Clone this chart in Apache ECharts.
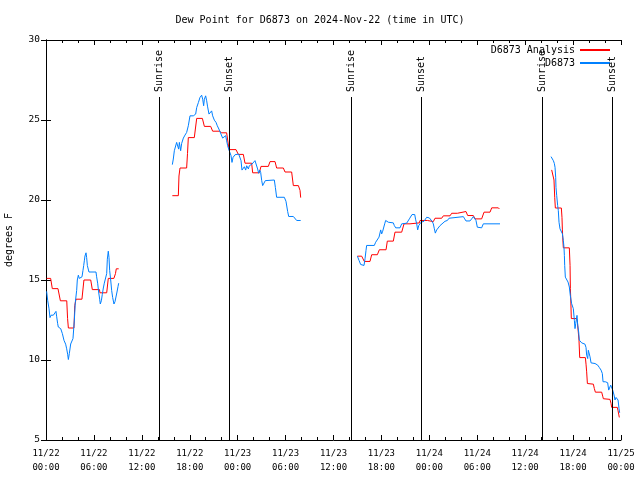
<!DOCTYPE html>
<html><head><meta charset="utf-8">
<script src="https://cdn.jsdelivr.net/npm/echarts@6/dist/echarts.min.js"></script>
<style>html,body{margin:0;padding:0;background:#fff}#c{width:640px;height:480px}</style>
</head><body><div id="c"></div>
<script>
const FONT = 'DejaVu Sans Mono';
const titleText = 'Dew Point for D6873 on 2024-Nov-22 (time in UTC)';
const startMonth = '11';
const startDay = 22;
// hours since 2024-11-22 00:00 UTC; null marks a gap in the record
const analysisHours = [
  0.08,0.58,0.79,1.5,1.8,2.6,2.7,2.8,3.5,3.6,3.76,4.5,4.75,5.6,5.8,6.7,6.75,7.6,7.8,8.5,8.7,8.8,9.1,
  null,
  15.82,16.57,16.65,16.78,17.61,17.72,17.82,18.57,18.87,19.58,19.83,20.62,20.87,21.7,22.0,22.62,22.92,23.79,24.08,24.71,24.92,25.75,25.88,26.71,26.92,27.84,28.05,28.68,28.88,29.72,29.93,30.76,30.97,31.6,31.81,31.89,
  null,
  38.99,39.53,39.86,40.57,40.78,41.49,41.74,42.58,42.74,43.49,43.70,44.54,44.83,45.58,45.71,46.75,46.83,47.75,47.88,48.5,48.71,49.55,49.75,50.59,50.8,51.51,51.63,52.59,52.8,53.51,53.72,54.55,54.85,55.6,55.81,56.64,56.77,
  null,
  63.32,63.53,63.61,63.7,63.78,64.53,64.61,64.66,64.7,64.78,65.53,65.62,65.66,65.7,65.78,66.45,66.53,66.66,66.74,66.83,67.54,67.62,67.7,67.79,68.54,68.66,68.79,69.58,69.71,69.79,70.62,70.75,70.83,71.54,71.63,71.71,71.79
];
const analysisDew = [
  15.1,15.1,14.46,14.46,13.7,13.7,12.6,12.0,12.0,13.4,13.8,13.8,15.0,15.0,14.4,14.4,14.2,14.2,15.1,15.1,15.4,15.7,15.7,
  null,
  20.27,20.27,21.5,22.0,22.0,22.9,23.9,23.9,25.1,25.1,24.6,24.6,24.3,24.3,24.2,24.2,23.15,23.15,22.85,22.85,22.3,22.3,21.7,21.7,22.1,22.1,22.4,22.4,22.0,22.0,21.75,21.75,20.9,20.9,20.6,20.15,
  null,
  16.49,16.49,16.16,16.16,16.58,16.58,16.89,16.89,17.43,17.43,17.99,17.99,18.51,18.51,18.57,18.57,18.72,18.72,18.65,18.65,18.86,18.86,19.01,19.01,19.17,19.17,19.28,19.28,19.03,19.03,18.82,18.82,19.24,19.24,19.51,19.51,19.44,
  null,
  21.88,21.88,21.25,20.17,19.5,19.5,18.92,18.13,17.68,17.01,17.01,15.91,14.46,13.94,12.59,12.59,12.44,12.44,11.24,10.15,10.15,9.74,9.26,8.53,8.49,8.22,7.99,7.99,7.74,7.58,7.54,7.29,7.04,7.04,6.83,6.62,6.41
];
const obsHours = [
  0.08,0.21,0.38,0.5,0.63,0.92,1.13,1.25,1.34,1.46,1.54,1.84,2.05,2.25,2.46,2.59,2.71,2.8,2.92,3.09,3.3,3.38,3.55,3.67,3.84,3.92,4.05,4.17,4.34,4.51,4.63,4.72,4.8,4.88,5.01,5.09,5.18,5.3,5.38,6.26,6.34,6.47,6.59,6.72,6.8,6.93,7.05,7.18,7.3,7.51,7.6,7.68,7.8,7.89,7.97,8.1,8.22,8.35,8.51,8.64,8.76,8.89,9.02,9.1,
  null,
  15.82,15.94,16.07,16.24,16.36,16.49,16.61,16.70,16.86,16.99,17.2,17.41,17.61,17.82,18.03,18.45,18.74,18.87,19.08,19.28,19.49,19.62,19.74,19.83,19.99,20.12,20.24,20.41,20.54,20.74,20.87,21.08,21.29,21.45,21.71,21.91,22.12,22.33,22.5,22.62,22.75,22.87,23.04,23.17,23.29,23.42,23.54,23.67,23.88,24.13,24.29,24.42,24.54,24.67,24.84,25.0,25.13,25.34,25.46,25.63,25.8,25.96,26.17,26.38,26.5,26.63,26.76,26.88,27.01,27.13,27.3,27.46,27.63,28.59,28.72,28.88,29.84,30.05,30.26,30.39,30.97,31.18,31.39,31.89,
  null,
  38.99,39.2,39.4,39.61,39.82,39.95,40.07,40.15,41.11,41.28,41.49,41.7,41.82,41.91,42.03,42.16,42.24,42.41,42.53,42.7,42.87,43.08,43.49,43.62,43.79,44.33,44.54,44.66,45.16,45.29,45.5,45.66,45.83,46.0,46.17,46.29,46.42,46.54,46.67,46.83,46.96,47.13,47.33,47.5,47.67,47.83,48.0,48.17,48.34,48.5,48.63,48.75,48.92,49.13,49.34,49.55,49.96,50.26,50.46,50.67,52.26,52.43,52.59,53.09,53.3,53.51,53.68,53.84,54.01,54.26,54.55,54.76,56.85,
  null,
  63.24,63.4,63.53,63.65,63.74,63.82,63.86,63.95,64.07,64.15,64.24,64.36,64.57,64.66,64.78,64.86,64.91,64.95,65.03,65.2,65.37,65.53,65.66,65.7,65.82,65.95,66.03,66.16,66.24,66.33,66.41,66.49,66.58,66.7,66.78,66.87,67.08,67.29,67.49,67.62,67.7,67.83,67.91,68.04,68.12,68.25,68.75,69.08,69.29,69.5,69.66,69.75,69.87,70.04,70.21,70.33,70.46,70.58,70.71,70.83,70.96,71.13,71.25,71.38,71.54,71.63,71.75,71.83
];
const obsDew = [
  14.29,13.73,13.2,12.65,12.8,12.8,12.9,13.04,12.7,12.27,12.06,11.96,11.65,11.23,10.99,10.7,10.36,10.03,10.4,11.0,11.0,11.34,12.5,13.6,14.35,15.0,15.3,15.1,15.1,15.2,15.6,15.9,16.2,16.5,16.7,16.4,15.9,15.8,15.5,15.5,15.2,14.8,14.25,13.8,13.5,13.7,14.1,14.5,14.8,14.85,15.4,16.3,16.8,16.4,15.6,15.0,14.35,13.9,13.5,13.65,13.7,14.25,14.6,14.8,
  null,
  22.21,22.56,23.08,23.18,23.6,23.5,23.18,23.6,23.08,23.54,23.87,24.06,24.22,24.64,25.26,25.26,25.37,25.78,26.09,26.41,26.55,26.3,25.89,26.3,26.51,26.2,25.82,25.37,25.47,25.57,25.26,24.99,24.85,24.64,24.37,24.12,23.87,23.75,24.02,23.7,23.39,23.18,23.08,22.77,22.35,22.66,22.56,22.83,22.91,22.87,22.91,22.46,21.87,21.87,22.08,21.87,22.14,21.94,22.14,22.08,22.25,22.35,22.46,22.35,21.94,21.67,21.87,21.73,21.21,20.9,20.96,21.21,21.25,21.25,20.79,20.17,20.17,19.92,19.28,18.97,18.97,18.88,18.72,18.72,
  null,
  16.49,16.22,15.97,15.91,15.91,16.33,16.85,17.16,17.16,17.36,17.47,17.68,17.72,18.13,17.88,18.05,17.99,18.51,18.72,18.82,18.61,18.57,18.57,18.4,18.26,18.26,18.51,18.55,18.55,18.67,18.82,18.92,19.09,19.13,19.09,18.76,18.51,18.13,18.4,18.51,18.61,18.61,18.67,18.67,18.92,18.99,18.88,18.82,18.67,18.51,18.2,17.93,18.13,18.2,18.4,18.51,18.67,18.72,18.86,18.96,18.96,18.82,18.69,18.69,18.82,18.96,18.92,18.72,18.3,18.26,18.26,18.51,18.51,
  null,
  22.71,22.62,22.46,22.29,22.04,21.42,20.79,20.27,19.65,19.34,18.61,18.2,18.13,17.89,17.47,17.05,16.53,15.91,15.18,15.08,14.87,14.56,14.0,13.94,13.52,13.42,13.21,12.48,11.96,12.27,12.38,12.79,12.17,11.75,11.24,11.13,11.07,11.03,10.99,10.78,10.3,10.09,10.61,10.72,10.2,9.82,9.78,9.68,9.53,9.37,9.16,8.64,8.58,8.64,8.74,8.58,8.12,8.22,8.43,8.33,8.12,7.81,7.5,7.66,7.7,7.5,6.98,6.7
];
const eventHours = [14.18, 22.95, 38.17, 46.95, 62.17, 70.9];
const eventNames = ['Sunrise','Sunset','Sunrise','Sunset','Sunrise','Sunset'];
const yMin = 5, yMax = 30, yStep = 5;
const xMin = 0, xMax = 72, xStep = 6;
const seriesNames = ['D6873 Analysis', 'D6873'];
const seriesColors = ['#ff0000', '#0080ff'];

function segments(hours, vals) {
  const out = []; let cur = [];
  hours.forEach((h, i) => {
    if (h === null || vals[i] === null) { if (cur.length) out.push(cur); cur = []; }
    else cur.push([h, vals[i]]);
  });
  if (cur.length) out.push(cur);
  return out;
}

function lineSeries(name, color, hours, vals, z) {
  return segments(hours, vals).map(seg => ({
    type: 'line', name: name, data: seg, showSymbol: false, symbol: 'none',
    lineStyle: { color: color, width: 1 }, itemStyle: { color: color },
    animation: false, z: z, silent: true
  }));
}

function xLabel(v) {
  const day = startDay + Math.floor(v / 24);
  const hh = v % 24;
  return startMonth + '/' + day + '\n' + (hh < 10 ? '0' : '') + hh + ':00';
}

const axisLineStyle = { show: true, lineStyle: { color: '#000', width: 1 } };
const tickStyle = { show: true, inside: true, length: 5, lineStyle: { color: '#000', width: 1 } };
const minorTickStyle = { show: true, splitNumber: 3, length: 3, lineStyle: { color: '#000', width: 1 } };

const chart = echarts.init(document.getElementById('c'), null, { renderer: 'canvas' });
chart.setOption({
  animation: false,
  backgroundColor: '#fff',
  title: {
    text: titleText, left: 'center', top: 10,
    textStyle: { fontFamily: FONT, fontSize: 10, fontWeight: 'normal', color: '#000' }
  },
  legend: {
    data: seriesNames, orient: 'vertical', right: 25, top: 40, align: 'right',
    itemWidth: 30, itemHeight: 2, itemGap: 3, icon: 'rect', selectedMode: false,
    textStyle: { fontFamily: FONT, fontSize: 10, color: '#000' }
  },
  grid: { left: 46, right: 19, top: 40, bottom: 40, containLabel: false, outerBoundsMode: 'none' },
  xAxis: [{
    type: 'value', min: xMin, max: xMax, interval: xStep, position: 'bottom',
    axisLine: axisLineStyle, axisTick: tickStyle, minorTick: minorTickStyle,
    splitLine: { show: false }, minorSplitLine: { show: false },
    axisLabel: { formatter: xLabel, fontFamily: FONT, fontSize: 9, color: '#000', lineHeight: 14, margin: 7 }
  }, {
    type: 'value', min: xMin, max: xMax, interval: xStep, position: 'top',
    axisLine: axisLineStyle, axisTick: tickStyle, minorTick: minorTickStyle,
    splitLine: { show: false }, minorSplitLine: { show: false }, axisLabel: { show: false }
  }],
  yAxis: [{
    type: 'value', min: yMin, max: yMax, interval: yStep, position: 'left',
    name: 'degrees F', nameLocation: 'middle', nameGap: 32,
    nameTextStyle: { fontFamily: FONT, fontSize: 10, color: '#000' },
    axisLine: axisLineStyle, axisTick: tickStyle, splitLine: { show: false },
    axisLabel: { fontFamily: FONT, fontSize: 9.5, color: '#000', margin: 6 }
  }, {
    type: 'value', min: yMin, max: yMax, interval: yStep, position: 'right',
    axisLine: axisLineStyle, axisTick: tickStyle, splitLine: { show: false },
    axisLabel: { show: false }
  }],
  series: [
    ...lineSeries(seriesNames[0], seriesColors[0], analysisHours, analysisDew, 2),
    ...lineSeries(seriesNames[1], seriesColors[1], obsHours, obsDew, 3),
    {
      type: 'custom', silent: true, z: 4,
      data: eventHours.map(h => [h, yMin]),
      encode: { x: 0, y: 1 },
      renderItem: function (params, api) {
        const cs = params.coordSys;
        const x = Math.round(api.coord([api.value(0), yMin])[0]) + 0.5;
        return {
          type: 'group',
          children: [{
            type: 'line',
            shape: { x1: x, y1: cs.y + cs.height, x2: x, y2: cs.y + 57 },
            style: { stroke: '#000', lineWidth: 1 }
          }, {
            type: 'text', x: x, y: cs.y + 52, rotation: Math.PI / 2,
            style: { text: eventNames[params.dataIndex], font: '10px ' + FONT, fill: '#000', align: 'left', verticalAlign: 'middle' }
          }]
        };
      }
    }
  ]
});
</script>
</body></html>
